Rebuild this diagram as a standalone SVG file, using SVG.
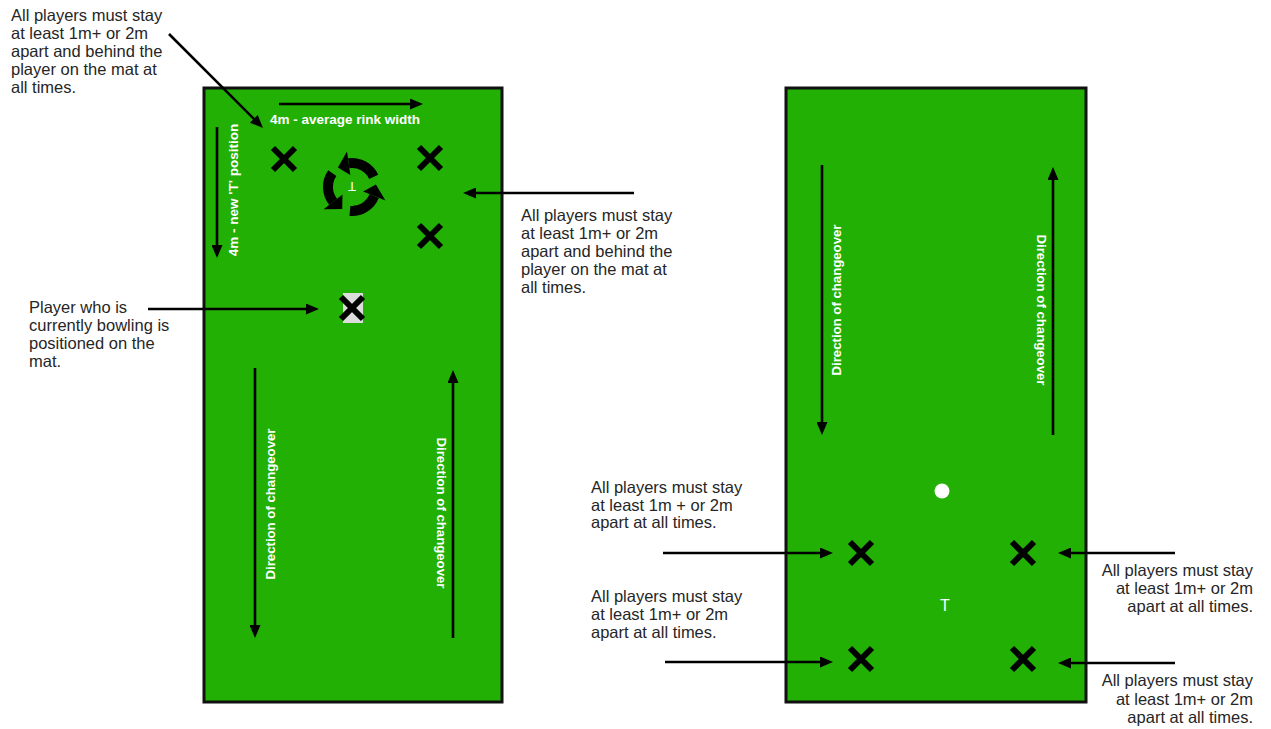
<svg xmlns="http://www.w3.org/2000/svg" width="1271" height="729" viewBox="0 0 1271 729">
<defs>
<style>
.panel{fill:#22B005;stroke:#111;stroke-width:3}
.note{font-family:"Liberation Sans",Arial,sans-serif;font-size:16.5px;fill:#262626}
.wb{font-family:"Liberation Sans",Arial,sans-serif;font-weight:bold;font-size:13.5px;fill:#fff}
.dir{font-family:"Liberation Sans",Arial,sans-serif;font-weight:bold;font-size:13.2px;fill:#fff}
.x{stroke:#000;stroke-width:6;fill:none}
.con{stroke:#000;stroke-width:2.6;fill:none;marker-end:url(#ah)}
.rot{stroke:#000;stroke-width:10;fill:none}
</style>
<marker id="ah" viewBox="0 0 13 11" refX="2" refY="5.5" markerWidth="13" markerHeight="11" markerUnits="userSpaceOnUse" orient="auto"><path d="M0,0 L13,5.5 L0,11 z" fill="#000"/></marker>
<path id="xm" d="M-11,-11 L11,11 M11,-11 L-11,11"/>
</defs>
<rect width="1271" height="729" fill="#fff"/>

<g id="panel-left">
<rect class="panel" x="204" y="88" width="298" height="614"/>
<text class="wb" x="345" y="124" text-anchor="middle">4m - average rink width</text>
<text class="wb" transform="translate(238,190) rotate(-90)" text-anchor="middle">4m - new 'T' position</text>
<text class="dir" transform="translate(275,504) rotate(-90)" text-anchor="middle">Direction of changeover</text>
<text class="dir" transform="translate(437,513) rotate(90)" text-anchor="middle">Direction of changeover</text>
</g>

<g id="panel-right">
<rect class="panel" x="786" y="88" width="300" height="614"/>
<text class="dir" transform="translate(841,300) rotate(-90)" text-anchor="middle">Direction of changeover</text>
<text class="dir" transform="translate(1037,310) rotate(90)" text-anchor="middle">Direction of changeover</text>
<circle cx="942" cy="491" r="7.5" fill="#fff"/>
<text x="945" y="611" text-anchor="middle" font-family="Liberation Sans, Arial, sans-serif" font-size="16" fill="#fff">T</text>
</g>

<g id="players-left">
<use href="#xm" class="x" x="284" y="159"/>
<use href="#xm" class="x" x="430" y="158"/>
<use href="#xm" class="x" x="430" y="236"/>
</g>

<g id="mat-bowler">
<rect x="343" y="293" width="20" height="30" fill="#dcdcdc"/>
<use href="#xm" class="x" x="352" y="308"/>
</g>

<g id="rotation">
<path class="rot" d="M373.7,176.8 A24,24 0 0 0 348.7,163.2"/>
<polygon points="347.0,151.4 350.3,175.1 337.9,167.6" fill="#000"/>
<path class="rot" d="M332.3,173.2 A24,24 0 0 0 333.1,201.8"/>
<polygon points="323.6,209.2 342.5,194.4 342.2,208.9" fill="#000"/>
<path class="rot" d="M349.9,210.9 A24,24 0 0 0 374.2,196.0"/>
<polygon points="385.4,200.5 363.1,191.5 375.9,184.5" fill="#000"/>
<text transform="translate(352,182) rotate(180)" text-anchor="middle" font-family="Liberation Sans, Arial, sans-serif" font-size="13" fill="#fff">T</text>
</g>

<g id="players-right">
<use href="#xm" class="x" x="861" y="553"/>
<use href="#xm" class="x" x="1023" y="553"/>
<use href="#xm" class="x" x="861" y="659"/>
<use href="#xm" class="x" x="1023" y="659"/>
</g>

<g id="connectors">
<line class="con" x1="169" y1="34" x2="255.2" y2="120.2"/>
<line class="con" x1="279" y1="104" x2="412" y2="104"/>
<line class="con" x1="217" y1="127" x2="217" y2="247"/>
<line class="con" x1="634" y1="193" x2="474" y2="193"/>
<line class="con" x1="148" y1="309" x2="308" y2="309"/>
<line class="con" x1="255" y1="368" x2="255" y2="627"/>
<line class="con" x1="453" y1="638" x2="453" y2="381"/>
<line class="con" x1="822" y1="165" x2="822" y2="424"/>
<line class="con" x1="1053" y1="435" x2="1053" y2="178"/>
<line class="con" x1="663" y1="553" x2="822" y2="553"/>
<line class="con" x1="665" y1="662" x2="822" y2="662"/>
<line class="con" x1="1175" y1="553" x2="1069" y2="553"/>
<line class="con" x1="1175" y1="663" x2="1069" y2="663"/>
</g>

<g id="note-top-left">
<text class="note"><tspan x="11" y="21">All players must stay</tspan><tspan x="11" y="39">at least 1m+ or 2m</tspan><tspan x="11" y="57">apart and behind the</tspan><tspan x="11" y="75">player on the mat at</tspan><tspan x="11" y="93">all times.</tspan></text>
</g>
<g id="note-mid-right">
<text class="note"><tspan x="521" y="221">All players must stay</tspan><tspan x="521" y="239">at least 1m+ or 2m</tspan><tspan x="521" y="257">apart and behind the</tspan><tspan x="521" y="275">player on the mat at</tspan><tspan x="521" y="293">all times.</tspan></text>
</g>
<g id="note-bowler">
<text class="note"><tspan x="29" y="313">Player who is</tspan><tspan x="29" y="331">currently bowling is</tspan><tspan x="29" y="349">positioned on the</tspan><tspan x="29" y="367">mat.</tspan></text>
</g>
<g id="note-r1">
<text class="note"><tspan x="591" y="493">All players must stay</tspan><tspan x="591" y="511">at least 1m + or 2m</tspan><tspan x="591" y="528">apart at all times.</tspan></text>
</g>
<g id="note-r2">
<text class="note"><tspan x="591" y="602">All players must stay</tspan><tspan x="591" y="620">at least 1m+ or 2m</tspan><tspan x="591" y="638">apart at all times.</tspan></text>
</g>
<g id="note-r3">
<text class="note" text-anchor="end"><tspan x="1253" y="576">All players must stay</tspan><tspan x="1253" y="594">at least 1m+ or 2m</tspan><tspan x="1253" y="612">apart at all times.</tspan></text>
</g>
<g id="note-r4">
<text class="note" text-anchor="end"><tspan x="1253" y="686">All players must stay</tspan><tspan x="1253" y="705">at least 1m+ or 2m</tspan><tspan x="1253" y="723">apart at all times.</tspan></text>
</g>
</svg>
